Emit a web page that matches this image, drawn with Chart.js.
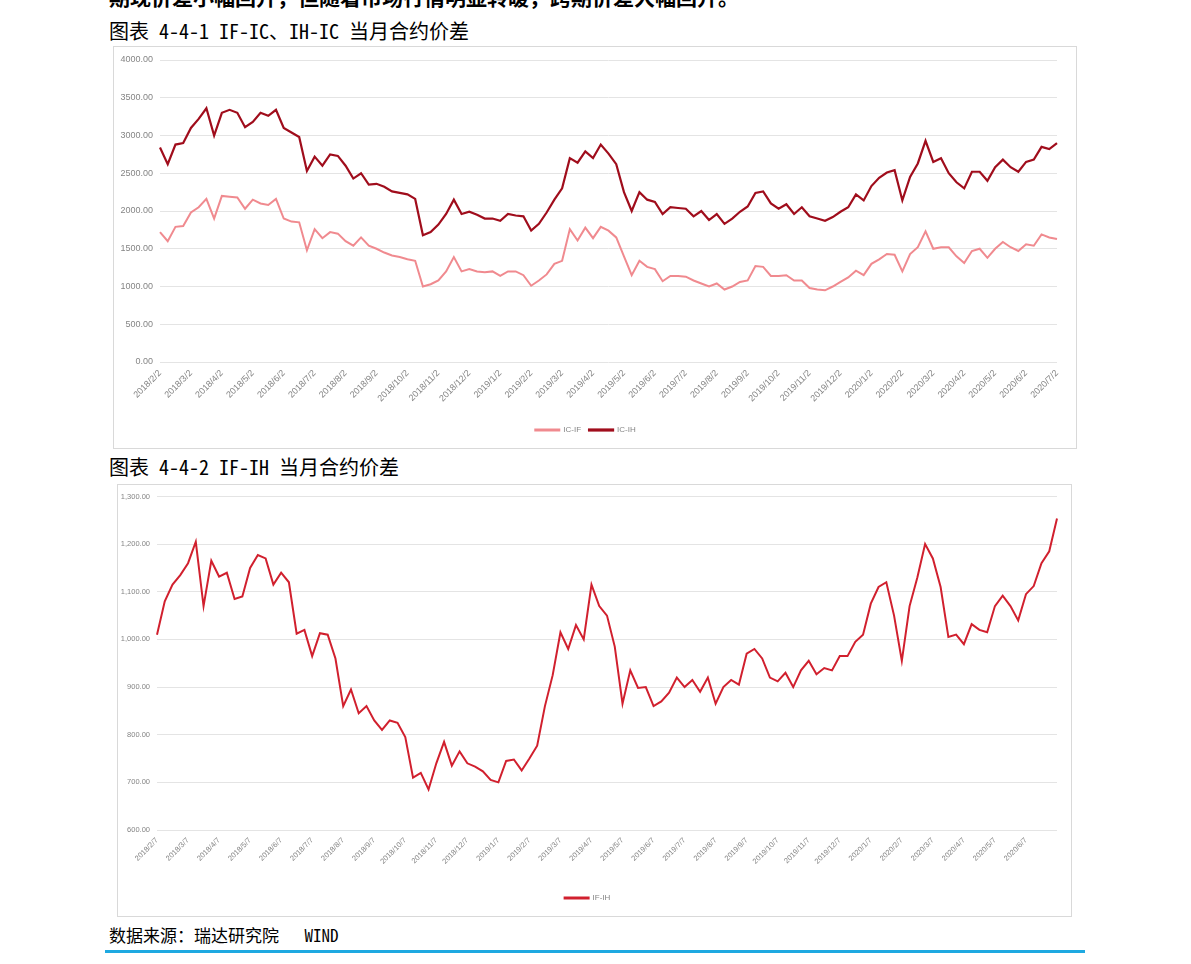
<!DOCTYPE html>
<html>
<head>
<meta charset="utf-8">
<script src="https://cdn.jsdelivr.net/npm/chart.js@4"></script>
<style>
  html, body { margin: 0; padding: 0; background: #fff; }
  body { width: 1191px; height: 964px; overflow: hidden; position: relative;
         font-family: "Noto Sans Mono CJK SC", "Liberation Mono", "Noto Sans CJK SC", monospace; color: #000; }
  .txt { position: absolute; left: 109px; white-space: nowrap; }
  .box { position: absolute; border: 1px solid #d9d9d9; background: #fff; }
  .rule { position: absolute; left: 105px; width: 980px; top: 950px; height: 3px; background: #1ea9e1; }
</style>
</head>
<body>
<div class="txt" style="top:-19px; font-size:21px; font-weight:bold; font-family:'Noto Sans CJK SC';">期现价差小幅回升，但随着市场行情明显转暖，跨期价差大幅回升。</div>
<div class="txt" style="top:18px; font-size:20px; line-height:26px;">图表 4-4-1 IF-IC、IH-IC 当月合约价差</div>
<div class="box" style="left:113px; top:46px; width:962px; height:401px;"><canvas id="spreadChart1"></canvas></div>
<div class="txt" style="top:454px; font-size:20px; line-height:26px;">图表 4-4-2 IF-IH 当月合约价差</div>
<div class="box" style="left:117px; top:484px; width:953px; height:431px;"><canvas id="spreadChart2"></canvas></div>
<div class="txt" style="top:923px; font-size:17px; line-height:24px;">数据来源：瑞达研究院&nbsp;&nbsp; WIND</div>
<div class="rule"></div>

<script>
// month tick labels
const months1 = ['2018/2/2','2018/3/2','2018/4/2','2018/5/2','2018/6/2','2018/7/2','2018/8/2','2018/9/2','2018/10/2','2018/11/2',
  '2018/12/2','2019/1/2','2019/2/2','2019/3/2','2019/4/2','2019/5/2','2019/6/2','2019/7/2','2019/8/2','2019/9/2',
  '2019/10/2','2019/11/2','2019/12/2','2020/1/2','2020/2/2','2020/3/2','2020/4/2','2020/5/2','2020/6/2','2020/7/2'];
const months2 = ['2018/2/7','2018/3/7','2018/4/7','2018/5/7','2018/6/7','2018/7/7','2018/8/7','2018/9/7','2018/10/7','2018/11/7',
  '2018/12/7','2019/1/7','2019/2/7','2019/3/7','2019/4/7','2019/5/7','2019/6/7','2019/7/7','2019/8/7','2019/9/7',
  '2019/10/7','2019/11/7','2019/12/7','2020/1/7','2020/2/7','2020/3/7','2020/4/7','2020/5/7','2020/6/7'];

// weekly readings (4 per month)
const icIf = [1720,1600,1790,1800,1980,2050,2160,1900,2200,2190,2180,2030,2150,2100,2080,2160,1900,1860,1850,1480,
  1760,1640,1720,1700,1600,1540,1650,1540,1500,1450,1410,1390,1360,1340,1000,1030,1080,1200,1390,1200,
  1230,1200,1190,1200,1140,1200,1200,1150,1010,1080,1160,1300,1340,1760,1610,1780,1640,1790,1740,1650,
  1400,1150,1340,1260,1230,1070,1140,1140,1130,1080,1040,1000,1040,960,1000,1060,1080,1270,1260,1140,
  1140,1150,1080,1080,980,960,950,1000,1060,1120,1210,1150,1300,1360,1430,1420,1200,1430,1520,1730,
  1500,1520,1520,1400,1310,1470,1500,1380,1500,1590,1520,1470,1560,1540,1690,1650,1630];
const icIh = [2840,2620,2880,2900,3100,3220,3360,3000,3300,3340,3300,3110,3180,3300,3260,3340,3100,3040,2980,2530,
  2720,2600,2750,2730,2600,2430,2500,2350,2360,2320,2260,2240,2220,2160,1680,1720,1820,1960,2150,1960,
  1990,1950,1900,1900,1870,1960,1940,1930,1740,1830,1980,2150,2300,2700,2640,2790,2700,2880,2760,2620,
  2250,2000,2250,2150,2120,1960,2050,2040,2030,1930,2000,1880,1960,1830,1900,1990,2060,2240,2260,2100,
  2030,2090,1960,2050,1930,1900,1870,1920,1990,2050,2220,2140,2330,2440,2510,2540,2140,2450,2630,2930,
  2650,2700,2500,2380,2300,2520,2520,2400,2580,2680,2580,2520,2650,2680,2850,2820,2900];
const ifIh = [1010,1080,1115,1135,1160,1205,1070,1165,1132,1140,1085,1090,1150,1177,1170,1115,1140,1120,1012,1020,
  965,1013,1010,960,860,895,845,860,830,810,830,825,795,710,720,685,740,785,735,765,
  740,733,723,705,700,745,748,725,750,777,860,925,1015,980,1030,1000,1115,1070,1050,985,
  865,935,898,900,860,870,888,920,900,915,890,920,865,900,915,905,970,980,960,920,
  912,930,900,935,955,927,940,935,965,965,995,1010,1075,1110,1120,1050,955,1070,1130,1200,
  1170,1110,1005,1010,990,1032,1020,1015,1070,1092,1070,1040,1095,1112,1160,1185,1254];

function weekLabels(months, n) {
    const out = [];
    for (let i = 0; i < n; i++) out.push(i % 4 === 0 ? (months[i / 4] || '') : '');
    return out;
}

const tickColor = '#858585';

function buildOptions(cfg) {
    const font = { family: 'Liberation Sans, Arial, sans-serif', size: cfg.fontSize };
    return {
        responsive: true,
        maintainAspectRatio: false,
        animation: false,
        layout: { padding: { left: 0, right: cfg.padRight, top: cfg.padTop, bottom: 4 } },
        plugins: {
            legend: {
                position: 'bottom',
                labels: { boxWidth: 24, boxHeight: 1, padding: 8, color: tickColor, font: { family: font.family, size: 8 } }
            },
            tooltip: { enabled: false }
        },
        scales: {
            x: {
                grid: { display: false, drawTicks: false },
                border: { display: false },
                ticks: { autoSkip: false, maxRotation: 45, minRotation: 45, padding: 6, color: tickColor, font: font },
                afterFit: function (scale) { scale.height = 56; }
            },
            y: {
                min: cfg.min,
                max: cfg.max,
                grid: { color: '#e4e4e4', drawTicks: false },
                border: { display: false },
                ticks: { stepSize: cfg.step, padding: cfg.tickPad, color: tickColor, font: font, callback: cfg.fmt },
                afterFit: function (scale) { scale.width = cfg.yWidth; }
            }
        }
    };
}

new Chart(document.getElementById('spreadChart1').getContext('2d'), {
    type: 'line',
    data: {
        labels: weekLabels(months1, icIf.length),
        datasets: [
            { label: 'IC-IF', data: icIf, borderColor: '#f08a8f', backgroundColor: '#f08a8f', borderWidth: 2, pointRadius: 0, tension: 0 },
            { label: 'IC-IH', data: icIh, borderColor: '#a00d1c', backgroundColor: '#a00d1c', borderWidth: 2.2, pointRadius: 0, tension: 0 }
        ]
    },
    options: buildOptions({
        min: 0, max: 4000, step: 500, yWidth: 46, padRight: 19, padTop: 13, fontSize: 9, tickPad: 7,
        fmt: function (v) { return v.toFixed(2); }
    })
});

new Chart(document.getElementById('spreadChart2').getContext('2d'), {
    type: 'line',
    data: {
        labels: weekLabels(months2, ifIh.length),
        datasets: [
            { label: 'IF-IH', data: ifIh, borderColor: '#d1202e', backgroundColor: '#d1202e', borderWidth: 2, pointRadius: 0, tension: 0 }
        ]
    },
    options: buildOptions({
        min: 600, max: 1300, step: 100, yWidth: 39, padRight: 14, padTop: 11, fontSize: 7.5, tickPad: 7,
        fmt: function (v) { return v.toLocaleString('en-US', { minimumFractionDigits: 2, maximumFractionDigits: 2 }); }
    })
});
</script>
</body>
</html>
